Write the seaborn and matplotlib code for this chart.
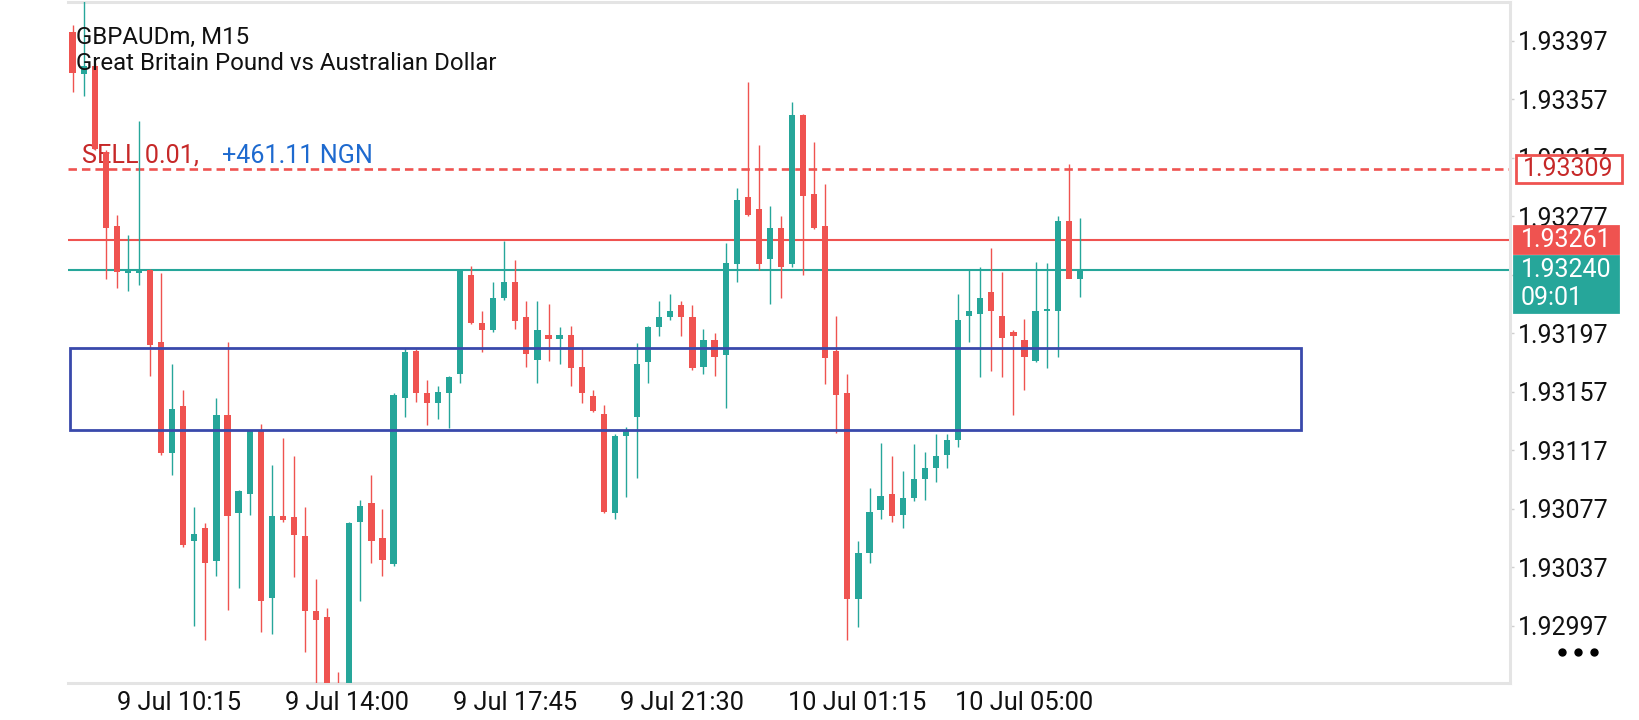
import numpy as np
import pandas as pd
import matplotlib
matplotlib.use("Agg")
import matplotlib.pyplot as plt
import seaborn as sns
from matplotlib.patches import Rectangle
from matplotlib.lines import Line2D
from matplotlib.transforms import IdentityTransform, blended_transform_factory

# GBPAUDm M15 bars (9 Jul 09:15 onwards)
opens = [1.93403, 1.93374, 1.93380, 1.93321, 1.93270, 1.93238, 1.93238, 1.93240, 1.93191, 1.93115,
         1.93147, 1.93055, 1.93064, 1.93041, 1.93141, 1.93074, 1.93087, 1.93131, 1.93016, 1.93072,
         1.93071, 1.93058, 1.93007, 1.93003, 1.92950, 1.92935, 1.93068, 1.93081, 1.93057, 1.93039,
         1.93153, 1.93185, 1.93156, 1.93149, 1.93156, 1.93169, 1.93237, 1.93204, 1.93199, 1.93221,
         1.93232, 1.93208, 1.93179, 1.93196, 1.93193, 1.93196, 1.93174, 1.93154, 1.93142, 1.93074,
         1.93127, 1.93140, 1.93177, 1.93201, 1.93208, 1.93216, 1.93208, 1.93174, 1.93192, 1.93182,
         1.93244, 1.93290, 1.93282, 1.93248, 1.93269, 1.93244, 1.93346, 1.93292, 1.93270, 1.93185,
         1.93156, 1.93015, 1.93047, 1.93076, 1.93087, 1.93073, 1.93084, 1.93097, 1.93105, 1.93114,
         1.93124, 1.93209, 1.93210, 1.93225, 1.93209, 1.93198, 1.93192, 1.93178, 1.93212, 1.93212,
         1.93274, 1.93234]
highs = [1.93408, 1.93425, 1.93382, 1.93322, 1.93278, 1.93264, 1.93342, 1.93241, 1.93238, 1.93176,
         1.93158, 1.93078, 1.93067, 1.93153, 1.93191, 1.93090, 1.93131, 1.93135, 1.93107, 1.93125,
         1.93113, 1.93078, 1.93029, 1.93009, 1.92965, 1.93068, 1.93083, 1.93100, 1.93077, 1.93156,
         1.93187, 1.93186, 1.93165, 1.93161, 1.93168, 1.93241, 1.93243, 1.93212, 1.93232, 1.93260,
         1.93247, 1.93219, 1.93219, 1.93217, 1.93201, 1.93202, 1.93187, 1.93158, 1.93148, 1.93128,
         1.93133, 1.93190, 1.93202, 1.93219, 1.93224, 1.93219, 1.93216, 1.93200, 1.93197, 1.93259,
         1.93296, 1.93369, 1.93326, 1.93284, 1.93277, 1.93355, 1.93347, 1.93328, 1.93299, 1.93209,
         1.93169, 1.93055, 1.93091, 1.93122, 1.93113, 1.93103, 1.93121, 1.93116, 1.93128, 1.93128,
         1.93224, 1.93240, 1.93242, 1.93255, 1.93239, 1.93199, 1.93207, 1.93246, 1.93245, 1.93277,
         1.93313, 1.93276]
lows = [1.93362, 1.93359, 1.93322, 1.93234, 1.93228, 1.93226, 1.93230, 1.93168, 1.93114, 1.93100,
        1.93051, 1.92997, 1.92987, 1.93031, 1.93008, 1.93023, 1.93073, 1.92993, 1.92991, 1.93068,
        1.93030, 1.92979, 1.92940, 1.92940, 1.92925, 1.92930, 1.93014, 1.93040, 1.93031, 1.93038,
        1.93140, 1.93150, 1.93134, 1.93138, 1.93132, 1.93163, 1.93203, 1.93184, 1.93198, 1.93220,
        1.93200, 1.93174, 1.93163, 1.93178, 1.93176, 1.93161, 1.93149, 1.93143, 1.93074, 1.93070,
        1.93085, 1.93098, 1.93163, 1.93195, 1.93206, 1.93195, 1.93172, 1.93169, 1.93168, 1.93146,
        1.93232, 1.93277, 1.93240, 1.93217, 1.93221, 1.93242, 1.93237, 1.93268, 1.93162, 1.93129,
        1.92987, 1.92996, 1.93040, 1.93070, 1.93068, 1.93064, 1.93082, 1.93083, 1.93095, 1.93105,
        1.93119, 1.93191, 1.93167, 1.93171, 1.93167, 1.93141, 1.93158, 1.93177, 1.93173, 1.93181,
        1.93247, 1.93222]
closes = [1.93375, 1.93380, 1.93323, 1.93269, 1.93239, 1.93239, 1.93239, 1.93189, 1.93115, 1.93145,
          1.93052, 1.93060, 1.93040, 1.93141, 1.93072, 1.93089, 1.93130, 1.93014, 1.93072, 1.93069,
          1.93059, 1.93007, 1.93001, 1.92950, 1.92935, 1.93067, 1.93079, 1.93055, 1.93042, 1.93155,
          1.93184, 1.93156, 1.93149, 1.93157, 1.93167, 1.93240, 1.93204, 1.93199, 1.93221, 1.93232,
          1.93205, 1.93183, 1.93199, 1.93193, 1.93196, 1.93173, 1.93156, 1.93144, 1.93075, 1.93127,
          1.93131, 1.93176, 1.93201, 1.93208, 1.93212, 1.93208, 1.93173, 1.93192, 1.93181, 1.93245,
          1.93288, 1.93278, 1.93244, 1.93269, 1.93242, 1.93346, 1.93291, 1.93269, 1.93180, 1.93155,
          1.93015, 1.93047, 1.93075, 1.93086, 1.93072, 1.93084, 1.93097, 1.93105, 1.93113, 1.93124,
          1.93206, 1.93212, 1.93221, 1.93212, 1.93194, 1.93195, 1.93181, 1.93212, 1.93213, 1.93274,
          1.93234, 1.93240]

time_labels = ["9 Jul 10:15", "9 Jul 14:00", "9 Jul 17:45", "9 Jul 21:30", "10 Jul 01:15", "10 Jul 05:00"]
time_label_pos = [4.04, 19.2, 34.4, 49.5, 64.6, 79.7]
price_ticks = [1.92997, 1.93037, 1.93077, 1.93117, 1.93157, 1.93197, 1.93237, 1.93277, 1.93317, 1.93357, 1.93397]

sell_price = 1.93309
ask_price = 1.93261
bid_price = 1.93240
countdown = "09:01"
zone_top, zone_bottom = 1.93187, 1.93131
zone_start, zone_end = -0.2, 111.0

RED = "#EF5350"
TEAL = "#26A69A"
BLUE = "#3949AB"
GREY = "#E4E4E4"

df = pd.DataFrame({"open": opens, "high": highs, "low": lows, "close": closes})
df["i"] = np.arange(len(df))
df["up"] = df["close"] >= df["open"]
df["color"] = np.where(df["up"], TEAL, RED)
df["body_lo"] = df[["open", "close"]].min(axis=1)
df["body_h"] = (df["close"] - df["open"]).abs().clip(lower=1.2e-5)

sns.set_style("white")
plt.rcParams["font.family"] = ["Roboto", "DejaVu Sans"]

fig = plt.figure(figsize=(16.4, 7.2), dpi=100)
ax = fig.add_axes([0.041463, 0.051389, 0.879268, 0.945833])

# price lines (under the candles)
ax.axhline(ask_price, color=RED, lw=1.5, zorder=1)
ax.axhline(bid_price, color=TEAL, lw=1.5, zorder=1)
ax.axhline(sell_price, color=RED, lw=1.9, ls=(0, (3.2, 1.9)), zorder=1)

# candles
ax.vlines(df["i"], df["low"], df["high"], colors=df["color"], lw=1.0, zorder=3)
ax.bar(df["i"], df["body_h"], bottom=df["body_lo"], width=0.56, color=df["color"], lw=0, zorder=4)

# zone box
ax.add_patch(Rectangle((zone_start, zone_bottom), zone_end - zone_start, zone_top - zone_bottom,
                       fill=False, ec=BLUE, lw=2.0, zorder=5))

ax.set_xlim(-0.41, 129.86)
ax.set_ylim(1.9295779, 1.9342346)

# the 1.93237 label sits under the bid tag in the app, only its tick shows
tick_text = ["" if p == 1.93237 else f"{p:.5f}" for p in price_ticks]
ax.yaxis.tick_right()
ax.set_yticks(price_ticks)
ax.set_yticklabels(tick_text)
ax.set_xticks(time_label_pos)
ax.set_xticklabels(time_labels, ha="left")
ax.tick_params(axis="y", length=3, width=1, color="#cfcfcf", labelsize=18, pad=3, labelcolor="#111111")
ax.tick_params(axis="x", length=3, width=1, color="#cfcfcf", labelsize=18.3, pad=3, labelcolor="#111111")
ax.grid(False)
ax.spines["left"].set_visible(False)
for s in ["top", "right", "bottom"]:
    ax.spines[s].set_color(GREY)
    ax.spines[s].set_linewidth(2.2)

# header texts
fig.text(76 / 1640, 1 - 43.5 / 720, "GBPAUDm, M15", fontsize=17.3, color="#111111", va="baseline")
fig.text(76 / 1640, 1 - 69.5 / 720, "Great Britain Pound vs Australian Dollar", fontsize=17.3,
         color="#111111", va="baseline")
trans = blended_transform_factory(fig.transFigure, ax.transData)
ax.text(82 / 1640, sell_price + 1.2e-5, "SELL 0.01,", transform=trans, fontsize=18.1, color="#C62828",
        va="bottom", zorder=2)
ax.text(222 / 1640, sell_price + 1.2e-5, "+461.11 NGN", transform=trans, fontsize=18.1, color="#1E6ACF",
        va="bottom", zorder=2)

# price tags on the scale
ident = IdentityTransform()


def price_tag(price, text, fc, ec, tc, x0, w, above, below, extra=None):
    yc = ax.transData.transform((0, price))[1]
    fig.add_artist(Rectangle((x0, yc - below), w, above + below, transform=ident,
                             fc=fc, ec=ec, lw=2, zorder=6))
    fig.add_artist(plt.Text(x0 + 7, yc, text, transform=ident, fontsize=18, color=tc,
                            va="center", ha="left", zorder=7,
                            fontfamily=["Roboto", "DejaVu Sans"]))
    if extra:
        fig.add_artist(plt.Text(x0 + 7, yc - 27.5, extra, transform=ident, fontsize=18, color=tc,
                                va="center", ha="left", zorder=7,
                                fontfamily=["Roboto", "DejaVu Sans"]))


price_tag(sell_price, f"{sell_price:.5f}", "white", RED, "#C62828", 1516, 106, 14, 14)
price_tag(ask_price, f"{ask_price:.5f}", RED, RED, "white", 1514, 104, 13.5, 13.5)
price_tag(bid_price, f"{bid_price:.5f}", TEAL, TEAL, "white", 1514, 104, 14.3, 41.7, extra=countdown)

# menu dots
fig.add_artist(Line2D([1562, 1578, 1594], [720 - 652] * 3, transform=ident, ls="none",
                      marker="o", ms=5, color="black", zorder=7))

fig.savefig("out.png", dpi=100)
